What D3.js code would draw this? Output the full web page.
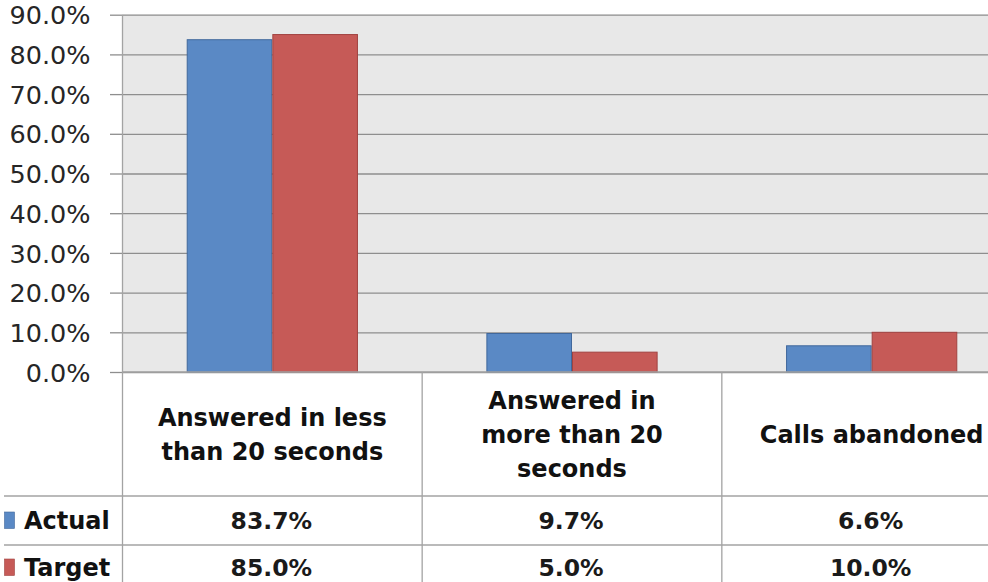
<!DOCTYPE html>
<html>
<head>
<meta charset="utf-8">
<script src="https://cdn.jsdelivr.net/npm/d3@7"></script>
<style>
  html, body { margin: 0; padding: 0; background: #ffffff; }
  svg { display: block; }
</style>
</head>
<body>
<svg id="chart" width="988" height="582"></svg>
<script>
// Call-handling performance: actual vs target share of calls
const categories = ["Answered in less than 20 seconds", "Answered in more than 20 seconds", "Calls abandoned"];
const categoryLines = [["Answered in less", "than 20 seconds"], ["Answered in", "more than 20", "seconds"], ["Calls abandoned"]];
const seriesNames = ["Actual", "Target"];
const actualValues = [0.837, 0.097, 0.066];
const targetValues = [0.85, 0.05, 0.10];
const yTicks = [0, 0.1, 0.2, 0.3, 0.4, 0.5, 0.6, 0.7, 0.8, 0.9];

const seriesValues = { Actual: actualValues, Target: targetValues };
const fills = { Actual: "#5A89C5", Target: "#C65A57" };
const strokes = { Actual: "#41689C", Target: "#A14341" };

const svg = d3.select("#chart");
const plotLeft = 122.5, plotRight = 1021.5, plotTop = 14.7, plotBottom = 372;
const headerBottom = 496, row1Bottom = 545, row2Bottom = 594;
const tableLeft = 4;
const FONT = "'DejaVu Sans', sans-serif";

const x0 = d3.scaleBand().domain(categories).range([plotLeft, plotRight]).padding(0);
const x1 = d3.scaleBand().domain(seriesNames).range([0, x0.bandwidth()])
  .paddingInner(0).paddingOuter(0.75);
const y = d3.scaleLinear().domain([0, 0.9]).range([plotBottom, plotTop]);
const pct = d3.format(".1%");

// plot background
svg.append("rect")
  .attr("x", plotLeft).attr("y", plotTop)
  .attr("width", plotRight - plotLeft).attr("height", plotBottom - plotTop)
  .attr("fill", "#E8E8E8");

// value axis with gridlines
const yAxis = d3.axisLeft(y).tickValues(yTicks).tickFormat(pct)
  .tickSizeInner(-(plotRight - plotLeft)).tickSizeOuter(0).tickPadding(0);
const gy = svg.append("g").attr("transform", `translate(${plotLeft},0)`).call(yAxis);
gy.select(".domain").remove();
gy.selectAll(".tick line").attr("stroke", "#8E8E8E").attr("stroke-width", 1.3);
gy.selectAll(".tick").append("line")
  .attr("x1", -12.5).attr("x2", 0).attr("stroke", "#8E8E8E").attr("stroke-width", 1.3);
gy.selectAll(".tick text")
  .attr("x", -32).attr("dy", "0.36em")
  .attr("font-family", FONT).attr("font-size", 25.5)
  .attr("fill", "#262626").attr("text-anchor", "end");

// bars
const groups = svg.append("g").selectAll("g").data(categories).join("g")
  .attr("transform", d => `translate(${x0(d)},0)`);
groups.selectAll("rect")
  .data((d, i) => seriesNames.map(s => ({ s, v: seriesValues[s][i] })))
  .join("rect")
  .attr("x", d => x1(d.s) + 0.5)
  .attr("y", d => y(d.v))
  .attr("width", x1.bandwidth() - 1)
  .attr("height", d => y(0) - y(d.v))
  .attr("fill", d => fills[d.s])
  .attr("stroke", d => strokes[d.s])
  .attr("stroke-width", 1);

// data table grid
const grid = svg.append("g").attr("stroke", "#A3A3A3").attr("stroke-width", 1.3);
grid.append("line").attr("x1", plotLeft).attr("x2", 988).attr("y1", plotBottom).attr("y2", plotBottom);
[headerBottom, row1Bottom].forEach(yy => {
  grid.append("line").attr("x1", tableLeft).attr("x2", 988).attr("y1", yy).attr("y2", yy);
});
const boundaries = categories.map(c => x0(c));
boundaries.forEach(bx => {
  grid.append("line").attr("x1", bx).attr("x2", bx)
    .attr("y1", bx === plotLeft ? plotTop : plotBottom).attr("y2", row2Bottom);
});

// category headers
const lineGap = 34.3;
const headerMid = (plotBottom + headerBottom) / 2;
svg.append("g").selectAll("text").data(categories).join("text")
  .attr("font-family", FONT).attr("font-size", 24).attr("font-weight", "bold")
  .attr("fill", "#111").attr("text-anchor", "middle")
  .each(function (d, i) {
    const lines = categoryLines[i];
    const cx = x0(d) + x0.bandwidth() / 2;
    const first = headerMid - (lines.length - 1) * lineGap / 2;
    d3.select(this).selectAll("tspan").data(lines).join("tspan")
      .attr("x", cx).attr("y", (l, k) => first + k * lineGap + 9)
      .text(l => l);
  });

// table rows: legend keys, series names, values
const rowMids = [(headerBottom + row1Bottom) / 2, (row1Bottom + row2Bottom) / 2 - 2];
seriesNames.forEach((s, r) => {
  const mid = rowMids[r];
  svg.append("rect")
    .attr("x", 4.5).attr("y", mid - 8.5).attr("width", 10).attr("height", 16.5)
    .attr("fill", fills[s]).attr("stroke", strokes[s]).attr("stroke-width", 0.6);
  svg.append("text")
    .attr("x", 24).attr("y", mid + 8.5)
    .attr("font-family", FONT).attr("font-size", 24).attr("font-weight", "bold")
    .attr("fill", "#111").text(s);
  svg.append("g").selectAll("text").data(categories).join("text")
    .attr("x", d => x0(d) + x0.bandwidth() / 2 - 1)
    .attr("y", mid + 8.5)
    .attr("text-anchor", "middle")
    .attr("font-family", FONT).attr("font-size", 23.5).attr("font-weight", 600)
    .attr("fill", "#1a1a1a")
    .text((d, i) => pct(seriesValues[s][i]));
});
</script>
</body>
</html>
